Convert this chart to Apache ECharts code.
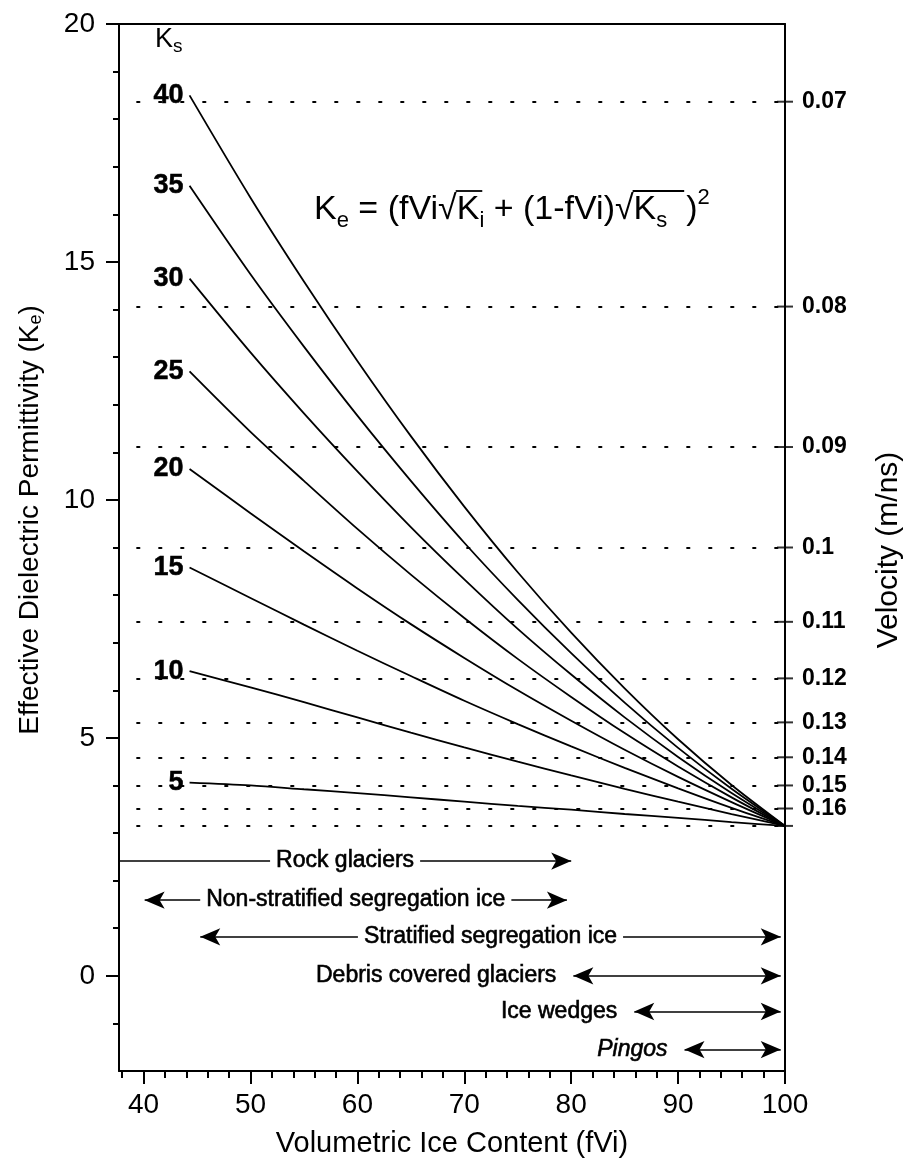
<!DOCTYPE html>
<html>
<head>
<meta charset="utf-8">
<script src="https://cdn.jsdelivr.net/npm/echarts@6/dist/echarts.min.js"></script>
<style>
  html, body { margin: 0; padding: 0; background: #ffffff; }
  #chart { width: 909px; height: 1163px; }
</style>
</head>
<body>
<div id="chart"></div>
<script>
// ---------------- data ----------------
const fVi = [44.3, 50, 55, 60, 65, 70, 75, 80, 85, 90, 95, 100];
const ks5  = [4.06, 4.00, 3.92, 3.84, 3.75, 3.66, 3.57, 3.49, 3.40, 3.32, 3.23, 3.15];
const ks10 = [6.40, 6.06, 5.75, 5.43, 5.11, 4.80, 4.50, 4.21, 3.93, 3.66, 3.40, 3.15];
const ks15 = [8.58, 7.94, 7.38, 6.83, 6.30, 5.78, 5.29, 4.82, 4.37, 3.94, 3.53, 3.15];
const ks20 = [10.65, 9.72, 8.92, 8.14, 7.39, 6.68, 6.00, 5.36, 4.75, 4.18, 3.65, 3.15];
const ks25 = [12.70, 11.43, 10.40, 9.39, 8.43, 7.52, 6.66, 5.86, 5.10, 4.40, 3.75, 3.15];
const ks30 = [14.65, 13.10, 11.82, 10.60, 9.43, 8.33, 7.29, 6.33, 5.43, 4.60, 3.84, 3.15];
const ks35 = [16.60, 14.74, 13.22, 11.77, 10.40, 9.10, 7.90, 6.78, 5.74, 4.79, 3.93, 3.15];
const ks40 = [18.50, 16.35, 14.59, 12.92, 11.34, 9.86, 8.48, 7.21, 6.04, 4.97, 4.01, 3.15];
const ksNames = ['5', '10', '15', '20', '25', '30', '35', '40'];
const ksSeries = [ks5, ks10, ks15, ks20, ks25, ks30, ks35, ks40];

const xTickLabels = [40, 50, 60, 70, 80, 90, 100];
const xMinorTicks = [38, 42, 44, 46, 48, 52, 54, 56, 58, 62, 64, 66, 68, 72, 74, 76, 78, 82, 84, 86, 88, 92, 94, 96, 98];
const yTickLabels = [0, 5, 10, 15, 20];
const yMinorTicks = [-1, 1, 2, 3, 4, 6, 7, 8, 9, 11, 12, 13, 14, 16, 17, 18, 19];

// velocity scale (m/ns) on the right, Ke = (c / v)^2 with c = 0.3 m/ns
const velocityLabels = ['0.07', '0.08', '0.09', '0.1', '0.11', '0.12', '0.13', '0.14', '0.15', '0.16'];
const iceKe = 3.15; // unlabeled bottom dotted line (pure ice)

// ranges of ice content for ground-ice types
const rangeNames = ['Rock glaciers', 'Non-stratified segregation ice', 'Stratified segregation ice',
                    'Debris covered glaciers', 'Ice wedges', 'Pingos'];
const rangeFrom = [37.7, 40.1, 45.3, 80.2, 85.9, 90.6];
const rangeTo   = [80.0, 79.6, 99.6, 99.6, 99.6, 99.6];
const rangeRow  = [2.41, 1.59, 0.82, 0.0, -0.75, -1.55];

// ---------------- chart ----------------
const FONT = 'Liberation Sans, Arial, Helvetica, sans-serif';
const X_MIN = 37.7, X_MAX = 100, Y_MIN = -2, Y_MAX = 20;

const chart = echarts.init(document.getElementById('chart'), null, { renderer: 'canvas' });

const curveSeries = ksSeries.map((arr, i) => ({
  name: 'Ks ' + ksNames[i],
  type: 'line',
  xAxisIndex: 0, yAxisIndex: 0,
  data: fVi.map((x, j) => [x, arr[j]]),
  showSymbol: false,
  symbol: 'none',
  smooth: 0.3,
  lineStyle: { color: '#000', width: 1.8 },
  z: 5,
  silent: true
}));

const labelSeries = {
  type: 'scatter',
  xAxisIndex: 0, yAxisIndex: 0,
  data: ksSeries.map((arr, i) => [fVi[0], arr[0], ksNames[i]]),
  symbolSize: 0,
  itemStyle: { color: '#000', opacity: 1 },
  label: {
    show: true, position: 'left', distance: 6,
    formatter: p => p.value[2],
    fontFamily: FONT, fontWeight: 'bold', fontSize: 27, color: '#000',
    textBorderColor: '#000', textBorderWidth: 0.5
  },
  silent: true, z: 6
};

const keOfV = v => Math.pow(0.3 / parseFloat(v), 2);
const dottedKe = velocityLabels.map(keOfV).concat([iceKe]);
const dottedLabels = velocityLabels.concat(['']);

const dottedSeries = {
  type: 'line',
  xAxisIndex: 0, yAxisIndex: 0,
  data: [],
  silent: true,
  markLine: {
    silent: true,
    symbol: ['none', 'none'],
    animation: false,
    lineStyle: { color: '#000', width: 2.2, type: [2.2, 19.8], cap: 'round' },
    label: {
      show: true, position: 'end', distance: 17,
      fontFamily: FONT, fontSize: 23, fontWeight: 'bold', color: '#000'
    },
    data: dottedKe.map((ke, i) => [
      { coord: [39.4, ke], label: { formatter: dottedLabels[i] } },
      { coord: [X_MAX, ke] }
    ])
  },
  z: 3
};

const rightTicks = {
  type: 'scatter',
  xAxisIndex: 0, yAxisIndex: 0,
  data: dottedKe.map(ke => [X_MAX, ke]),
  symbol: 'rect',
  symbolSize: [16, 2],
  itemStyle: { color: '#000' },
  silent: true, z: 8
};

const rangeSeries = {
  type: 'line',
  xAxisIndex: 0, yAxisIndex: 0,
  data: [],
  silent: true,
  markLine: {
    silent: true,
    animation: false,
    symbolSize: [13, 20],
    lineStyle: { color: '#000', width: 1.7, type: 'solid' },
    data: rangeNames.map((name, i) => {
      const openLeft = rangeFrom[i] <= X_MIN + 0.01;
      const centered = i < 3;
      const labelCfg = centered
        ? { show: true, position: 'insideMiddle', formatter: name, backgroundColor: '#fff',
            padding: [0, 6, 0, 6], distance: 0 }
        : { show: true, position: 'start', formatter: name, distance: 17 };
      labelCfg.fontFamily = FONT;
      labelCfg.fontSize = 23;
      labelCfg.color = '#000';
      labelCfg.textBorderColor = '#000';
      labelCfg.textBorderWidth = 0.6;
      if (name === 'Pingos') labelCfg.fontStyle = 'italic';
      return [
        { coord: [rangeFrom[i], rangeRow[i]], symbol: openLeft ? 'none' : 'arrow', label: labelCfg },
        { coord: [rangeTo[i], rangeRow[i]], symbol: 'arrow' }
      ];
    })
  },
  z: 4
};

// ---- formula laid out piece by piece (text + overlines of the square roots) ----
function buildFormula(x0, midY) {
  const ctx = document.createElement('canvas').getContext('2d');
  const big = 34, small = 22;
  const pieces = [
    { t: 'K', s: big, dy: 0 }, { t: 'e', s: small, dy: 11 },
    { t: ' = (fVi', s: big, dy: 0 }, { t: '\u221A', s: big, dy: 0 },
    { t: 'K', s: big, dy: 0, over: 1 }, { t: 'i', s: small, dy: 11, over: 1 },
    { t: ' + (1-fVi)', s: big, dy: 0 }, { t: '\u221A', s: big, dy: 0 },
    { t: 'K', s: big, dy: 0, over: 2 }, { t: 's', s: small, dy: 11, over: 2 }, { t: '  ', s: big, dy: 0, over: 2 },
    { t: ')', s: big, dy: 0 }, { t: '2', s: small, dy: -12 }
  ];
  const els = [];
  const spans = {};
  let x = x0;
  pieces.forEach(p => {
    ctx.font = p.s + 'px ' + FONT;
    const w = ctx.measureText(p.t).width;
    els.push({
      type: 'text', x: x, y: midY + p.dy, silent: true,
      style: { text: p.t, fontFamily: FONT, fontSize: p.s, fill: '#000', align: 'left', verticalAlign: 'middle' }
    });
    if (p.over) {
      if (!spans[p.over]) spans[p.over] = [x, x + w];
      else spans[p.over][1] = x + w;
    }
    x += w;
  });
  Object.keys(spans).forEach(k => {
    const [a, b] = spans[k];
    els.push({
      type: 'line', silent: true,
      shape: { x1: a - 1, y1: midY - 19, x2: b - 2, y2: midY - 19 },
      style: { stroke: '#000', lineWidth: 1.8 }
    });
  });
  return els;
}

const axisLineStyle = { show: true, onZero: false, lineStyle: { color: '#000', width: 2 } };

const option = {
  backgroundColor: '#ffffff',
  animation: false,
  grid: { left: 119, right: 124, top: 24, bottom: 88, containLabel: false },
  xAxis: [
    {
      type: 'value', min: X_MIN, max: X_MAX, position: 'bottom',
      axisLine: axisLineStyle,
      axisTick: { show: true, customValues: xTickLabels, length: 13, lineStyle: { color: '#000', width: 2 } },
      axisLabel: { show: true, customValues: xTickLabels, fontFamily: FONT, fontSize: 28, color: '#000', margin: 20 },
      splitLine: { show: false },
      name: 'Volumetric Ice Content (fVi)',
      nameLocation: 'middle', nameGap: 58,
      nameTextStyle: { fontFamily: FONT, fontSize: 29, color: '#000' }
    },
    {
      type: 'value', min: X_MIN, max: X_MAX, position: 'bottom',
      axisLine: { show: false, onZero: false },
      axisTick: { show: true, customValues: xMinorTicks, length: 7, lineStyle: { color: '#000', width: 2 } },
      axisLabel: { show: false },
      splitLine: { show: false }
    },
    {
      type: 'value', min: X_MIN, max: X_MAX, position: 'top',
      axisLine: axisLineStyle,
      axisTick: { show: false }, axisLabel: { show: false }, splitLine: { show: false }
    }
  ],
  yAxis: [
    {
      type: 'value', min: Y_MIN, max: Y_MAX, position: 'left',
      axisLine: axisLineStyle,
      axisTick: { show: true, customValues: yTickLabels, length: 13, lineStyle: { color: '#000', width: 2 } },
      axisLabel: { show: true, customValues: yTickLabels, fontFamily: FONT, fontSize: 28, color: '#000', margin: 24 },
      splitLine: { show: false }
    },
    {
      type: 'value', min: Y_MIN, max: Y_MAX, position: 'left',
      axisLine: { show: false, onZero: false },
      axisTick: { show: true, customValues: yMinorTicks, length: 6, lineStyle: { color: '#000', width: 2 } },
      axisLabel: { show: false },
      splitLine: { show: false }
    },
    {
      type: 'value', min: Y_MIN, max: Y_MAX, position: 'right',
      axisLine: axisLineStyle,
      axisTick: { show: false }, axisLabel: { show: false }, splitLine: { show: false }
    }
  ],
  graphic: [
    {
      type: 'text', left: 155, top: 26,
      style: {
        text: '{k|K}{s|s}',
        rich: {
          k: { fontFamily: FONT, fontSize: 27, fill: '#000' },
          s: { fontFamily: FONT, fontSize: 19, fill: '#000', padding: [14, 0, 0, 0] }
        }
      }
    },
    {
      type: 'text', x: 30, y: 520, rotation: Math.PI / 2,
      style: {
        text: '{n|Effective Dielectric Permittivity (K}{sub|e}{n|)}',
        align: 'center', verticalAlign: 'middle',
        rich: {
          n: { fontFamily: FONT, fontSize: 28, fill: '#000' },
          sub: { fontFamily: FONT, fontSize: 18, fill: '#000', padding: [12, 0, 0, 0] }
        }
      }
    },
    {
      type: 'text', x: 889, y: 550, rotation: Math.PI / 2,
      style: {
        text: 'Velocity (m/ns)',
        align: 'center', verticalAlign: 'middle',
        fontFamily: FONT, fontSize: 30, fill: '#000'
      }
    }
  ].concat(buildFormula(314, 210)),
  series: curveSeries.concat([labelSeries, dottedSeries, rightTicks, rangeSeries])
};

chart.setOption(option);
</script>
</body>
</html>
